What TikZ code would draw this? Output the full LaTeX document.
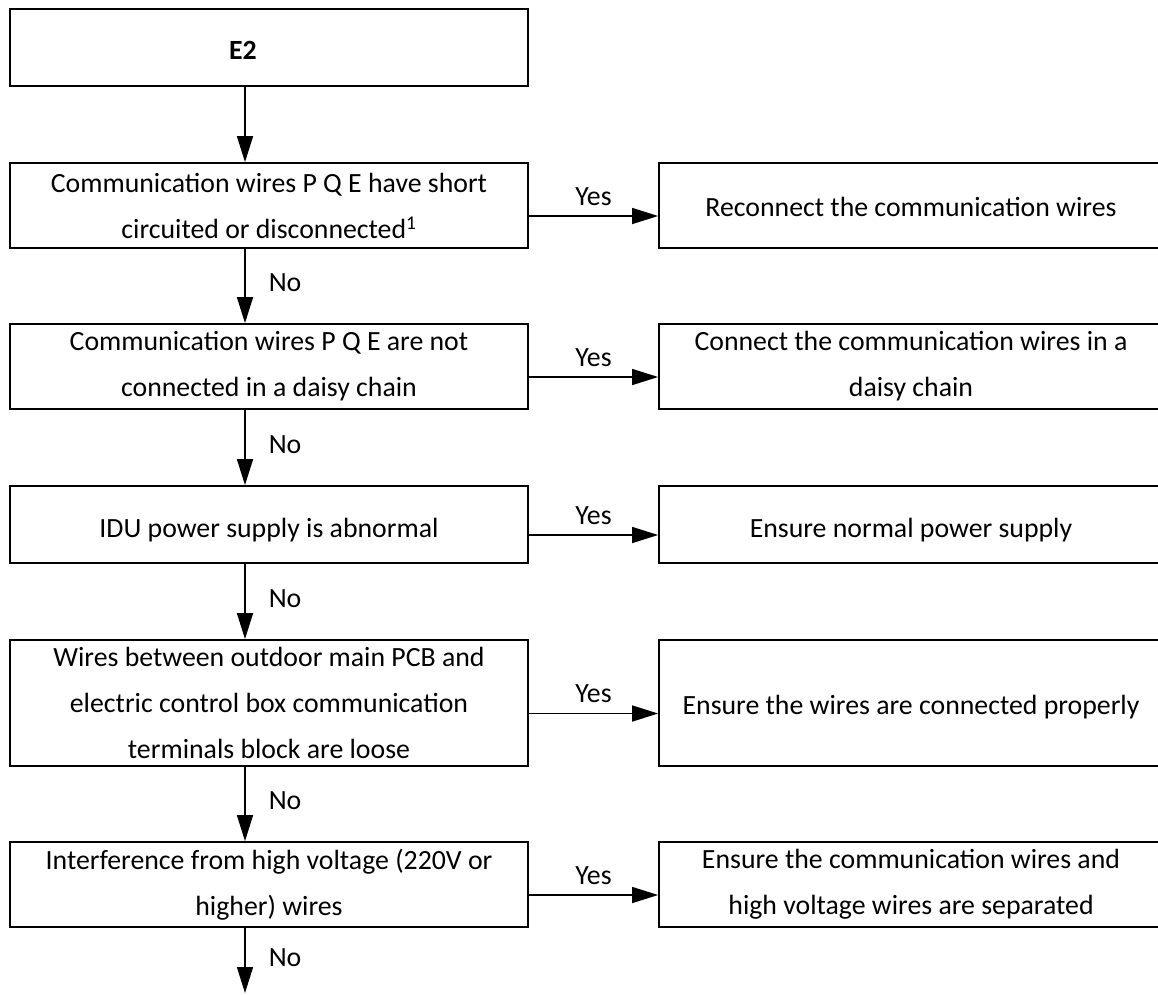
\documentclass[tikz,border=0pt]{standalone}
\usepackage{fontspec}
\setmainfont{Carlito}
\usetikzlibrary{arrows.meta}
\begin{document}
\begin{tikzpicture}[x=1pt,y=-1pt,
  txt/.style={font=\fontsize{27.8}{46}\selectfont},
  lbox/.style={draw, line width=1.8pt, inner sep=0pt, align=center, txt, minimum width=518pt},
  rbox/.style={draw, line width=1.8pt, inner sep=0pt, align=center, txt, minimum width=504pt},
  oneline/.style={text height=#1, text depth=0pt},
  arr/.style={line width=1.5pt, -{Triangle[length=26pt,width=16pt]}},
  lbl/.style={txt, inner sep=0pt}]
\useasboundingbox (0,0) rectangle (1158,994);
\coordinate (ax) at (245,0);
\coordinate (endpt) at (245,993);
% left column
\node[lbox, minimum height=77pt, oneline=24pt] (b1) at (269,47.5) {\hspace*{-52pt}\textbf{E2}};
\node[lbox, minimum height=85pt] (b2) at (269,205.5) {Communication wires P Q E have short\\circuited or disconnected\textsuperscript{1}};
\node[lbox, minimum height=85pt] (b3) at (269,366.5) {Communication wires P Q E are not\\connected in a daisy chain};
\node[lbox, minimum height=77pt, oneline=25pt] (b4) at (269,524.5) {IDU power supply is abnormal};
\node[lbox, minimum height=126pt] (b5) at (269,703) {Wires between outdoor main PCB and\\electric control box communication\\terminals block are loose};
\node[lbox, minimum height=85pt] (b6) at (269,884.5) {Interference from high voltage (220V or\\higher) wires};
% right column
\node[rbox, minimum height=85pt, oneline=21pt] (r2) at (911,205.5) {Reconnect the communication wires};
\node[rbox, minimum height=85pt] (r3) at (911,366.5) {Connect the communication wires in a\\daisy chain};
\node[rbox, minimum height=77pt, oneline=25pt] (r4) at (911,524.5) {Ensure normal power supply};
\node[rbox, minimum height=126pt, oneline=22pt] (r5) at (911,703) {Ensure the wires are connected properly};
\node[rbox, minimum height=85pt] (r6) at (911,884.5) {Ensure the communication wires and\\high voltage wires are separated};
% vertical arrows
\draw[arr] (b1.south -| ax) -- (b2.north -| ax);
\foreach \a/\b in {b2/b3,b3/b4,b4/b5,b5/b6}{
  \draw[arr] (\a.south -| ax) -- node[lbl, anchor=west, xshift=23pt, yshift=3pt] {No} (\b.north -| ax);
}
\draw[arr] (b6.south -| ax) -- node[lbl, anchor=west, xshift=23pt, yshift=3pt] {No} (endpt);
% yes arrows
\foreach \i in {2,...,6}{
  \draw[arr] ([yshift=-10.5pt]b\i.east) -- node[lbl, anchor=base, yshift=11pt] {Yes} ([yshift=-10.5pt]r\i.west);
}
\end{tikzpicture}
\end{document}
